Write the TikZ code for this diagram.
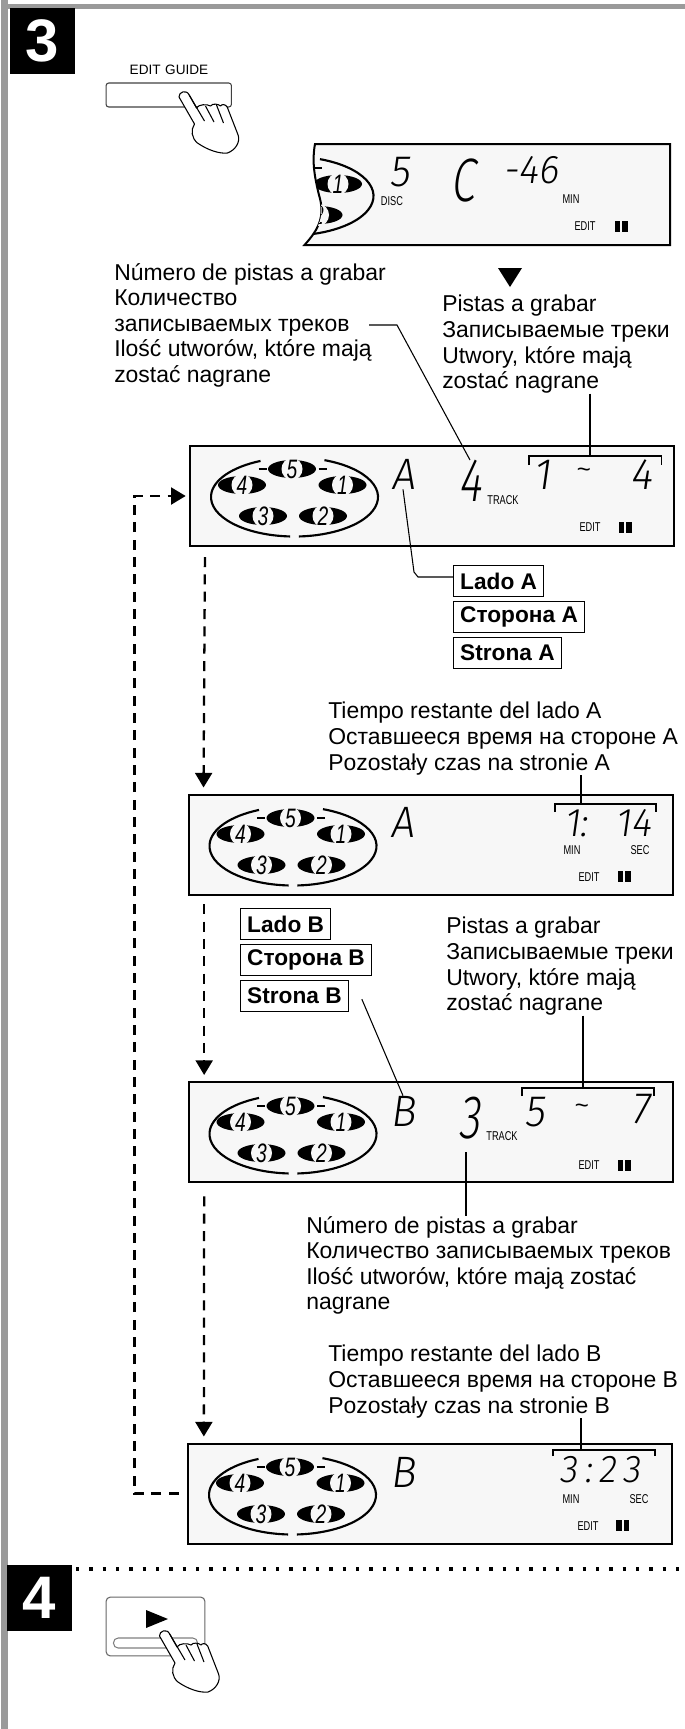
\documentclass[tikz,border=0pt]{standalone}
\usepackage{fontspec}
\setmainfont{Liberation Sans}
\newfontfamily\segfont[FakeSlant=0.14,FakeStretch=0.95]{Fira Sans Light}
\newfontfamily\segtall[FakeSlant=0.14,FakeStretch=0.72]{Fira Sans Light}
\newfontfamily\lcdfont[FakeStretch=0.72]{Liberation Sans}
\usepackage{tikz}
\usetikzlibrary{arrows.meta, positioning, calc}
\definecolor{lcdbg}{HTML}{F7F7F7}
\definecolor{stripgray}{HTML}{9A9A9A}
\tikzset{
  stepbox/.style={fill=black, text=white, inner sep=0pt, minimum width=48.75pt, minimum height=49pt,
    font=\fontsize{45}{45}\selectfont\bfseries},
  lcdpanel/.style={draw=black, fill=lcdbg, line width=1.5pt, inner sep=0pt, minimum width=363pt, minimum height=75pt},
  seg/.style={inner sep=0pt, font=\segfont\fontsize{33}{33}\selectfont},
  segbig/.style={inner sep=0pt, font=\segtall\fontsize{46}{46}\selectfont},
  lcdtag/.style={inner sep=0pt, font=\lcdfont\fontsize{9.6}{10}\selectfont},
  note/.style={anchor=north west, inner sep=0pt, align=left, font=\fontsize{17.2}{19.2}\selectfont},
  sidetag/.style={draw=black, line width=0.8pt, inner xsep=5pt, inner ysep=0pt, minimum height=23.25pt,
    font=\fontsize{17}{20}\selectfont\bfseries},
  keycap/.style={draw=black!75, line width=0.8pt, rounded corners=2pt, inner sep=0pt},
  lead/.style={draw=black, line width=0.8pt},
  flow/.style={-{Triangle[length=11pt, width=12.75pt]}, draw=black, line width=1.7pt, dash pattern=on 7.5pt off 5.5pt},
  pics/disc/.style={code={
    \fill[black] (0,0) ellipse [x radius=24, y radius=9];
    \fill[lcdbg] (0,0) ellipse [x radius=10.5, y radius=11];
    \node[inner sep=0pt, font=\lcdfont\itshape\fontsize{20}{20}\selectfont] {#1};
  }},
  pics/carousel/.style={code={
    \draw[line width=1.6pt] (-69:83.5 and 39.5) arc [start angle=-69, end angle=87, x radius=83.5, y radius=39.5];
    \draw[line width=1.6pt] (93:83.5 and 39.5) arc [start angle=93, end angle=246, x radius=83.5, y radius=39.5];
    \pic at (-2.5,-28) {disc=5};
    \pic at (-52.5,-12) {disc=4};
    \pic at (48,-12) {disc=1};
    \pic at (-31.5,19) {disc=3};
    \pic at (28.5,19) {disc=2};
    \draw[line width=1pt] (-36,-28) -- (-28,-28) (24,-28) -- (32,-28);
  }},
  pics/pausebars/.style={code={
    \fill (-6.5,-5.5) rectangle (-1,5.5);
    \fill (1,-5.5) rectangle (6.5,5.5);
  }},
  pics/hand/.style={code={
    \draw[line width=0.8pt, fill=white, line join=round] (-4.5,5) -- (11,32) .. controls (7,38) and (8,46) .. (14,51)
      .. controls (24,58) and (36,62) .. (44,61) .. controls (52,58) and (57,50) .. (54.6,43) -- (43.7,15)
      .. controls (42,12) and (38,12) .. (37,14) .. controls (35,12) and (29,11) .. (27,14)
      .. controls (24,12) and (15,12) .. (13,16) -- (5.7,3) .. controls (3,-3) and (-5,0) .. (-4.5,5) -- cycle;
    \draw[line width=0.8pt] (5.7,3) -- (21,29) (22,14) -- (30.5,30) (33,13) -- (40,31);
  }}
}
\begin{document}
\begin{tikzpicture}[x=0.75pt, y=-0.75pt]
\useasboundingbox (0,0) rectangle (685,1729);
% scan edges
\fill[stripgray] (1,0) rectangle (8,1729);
\fill[stripgray] (1,4) rectangle (685,9);
% step 3
\node[stepbox] (stepthree) at (42.5,41) {3};
\node[lcdtag, font=\fontsize{10.2}{11}\selectfont] (editguide) at (169,70) {EDIT\,\,GUIDE};
\node[keycap, minimum width=94pt, minimum height=18pt] (editkey) at (168.75,95) {};
\pic at (183.5,92) {hand};
% first display, torn on the left
\draw[fill=lcdbg, line width=1.5pt] (304.5,245) .. controls (320,228) and (325,215) .. (319,195)
  .. controls (314,175) and (312,160) .. (315,144) -- (670,144) -- (670,245) -- cycle;
\begin{scope}
\clip (304.5,245) .. controls (320,228) and (325,215) .. (319,195)
  .. controls (314,175) and (312,160) .. (315,144) -- (670,144) -- (670,245) -- cycle;
\pic at (290,196) {carousel};
\end{scope}
\node[seg] (discno) at (400,172) {5};
\node[lcdtag] (disctag) at (392,201) {DISC};
\node[segbig] (cassette) at (463,180) {C};
\node[seg, font=\segfont\fontsize{30}{30}\selectfont] (tapelen) at (531,170) {-46};
\node[lcdtag] (mintag) at (571,199) {MIN};
\node[lcdtag] (edittag) at (585,226) {EDIT};
\pic at (621,226) {pausebars};
\fill (498,268) -- (522,268) -- (510,287) -- cycle;
% notes above display A
\node[note] (numnote) at (114,263) {Número de pistas a grabar\\Количество\\записываемых треков\\Ilość utworów, które mają\\zostać nagrane};
\node[note] (tracknote) at (442,295) {Pistas a grabar\\Записываемые треки\\Utwory, które mają\\zostać nagrane};
\coordinate (numlead) at (369,325);
% display A
\node[lcdpanel] (panela) at (432,496) {};
\pic at (294.5,497) {carousel};
\node[seg] (sidea) at (403,474) {A};
\node[segbig] (counta) at (470,481) {4};
\node[lcdtag] at (503,500) (tracka) {TRACK};
\node[seg] (firsta) at (542,475) {1};
\node[seg, font=\fontsize{18}{18}\selectfont] (tildea) at (584,473) {\textasciitilde};
\node[seg] (lasta) at (641,475) {4};
\node[lcdtag] (edita) at (590,527) {EDIT};
\pic at (625,527.5) {pausebars};
\coordinate (bracea) at (590,456);
\draw[lead] (529,465) |- (661.6,456) -- (661.6,465);
\draw[lead] (tracknote.south -| bracea) -- (bracea);
\draw[lead] (numlead) -- ++(28,0) -- (counta.north);
% side A tags
\node[sidetag, anchor=north west] (ladoa) at (453,565) {Lado A};
\node[sidetag, below=3pt of ladoa.south west, anchor=north west] (storonaa) {Сторона A};
\node[sidetag, below=3pt of storonaa.south west, anchor=north west] (stronaa) {Strona A};
\draw[lead] (sidea.south) -- (414,572) -- (418,577) -- (ladoa.west |- 440,577);
% display with time A
\node[note] (timeanote) at (328,702) {Tiempo restante del lado A\\Оставшееся время на стороне A\\Pozostały czas na stronie A};
\node[lcdpanel] (panelb) at (430.5,844.5) {};
\pic at (293,846) {carousel};
\node[seg] (sideb) at (402,822) {A};
\node[seg, font=\segfont\fontsize{30}{30}\selectfont] (timemin) at (576,823) {1:};
\node[seg, font=\segfont\fontsize{30}{30}\selectfont] (timesec) at (633,823) {14};
\node[lcdtag] (minb) at (572,850) {MIN};
\node[lcdtag] (secb) at (640,850) {SEC};
\node[lcdtag] (editb) at (589,877) {EDIT};
\pic at (624,876.5) {pausebars};
\coordinate (braceb) at (581,804);
\draw[lead] (555,812) |- (656,804) -- (656,812);
\draw[lead] (timeanote.south -| braceb) -- (braceb);
% side B tags
\node[sidetag, anchor=north west] (ladob) at (240,908) {Lado B};
\node[sidetag, below=3pt of ladob.south west, anchor=north west] (storonab) {Сторона B};
\node[sidetag, below=3pt of storonab.south west, anchor=north west] (stronab) {Strona B};
\node[note] (tracknoteb) at (446,917) {Pistas a grabar\\Записываемые треки\\Utwory, które mają\\zostać nagrane};
% display B
\node[lcdpanel] (panelc) at (430.5,1132) {};
\pic at (293,1134) {carousel};
\node[seg] (sidec) at (403,1111) {B};
\node[segbig] (countc) at (469,1118) {3};
\node[lcdtag] (trackc) at (502,1136) {TRACK};
\node[seg] (firstc) at (535,1112) {5};
\node[seg, font=\fontsize{18}{18}\selectfont] (tildec) at (582,1109) {\textasciitilde};
\node[seg] (lastc) at (641,1109) {7};
\node[lcdtag] (editc) at (589,1165) {EDIT};
\pic at (624,1165) {pausebars};
\coordinate (bracec) at (583,1088);
\draw[lead] (522,1096) |- (654,1088) -- (654,1096);
\draw[lead] (tracknoteb.south -| bracec) -- (bracec);
\draw[lead] (stronab.east) ++(13,3) -- (sidec.north);
\node[note] (numnoteb) at (306,1216) {Número de pistas a grabar\\Количество записываемых треков\\Ilość utworów, które mają zostać\\nagrane};
\draw[lead] (466,1152) -- (numnoteb.north -| 466,0);
% display with time B
\node[note] (timebnote) at (328,1345) {Tiempo restante del lado B\\Оставшееся время на стороне B\\Pozostały czas na stronie B};
\node[lcdpanel] (paneld) at (429.5,1493.5) {};
\pic at (292.5,1495) {carousel};
\node[seg] (sided) at (403,1472) {B};
\node[seg, font=\segfont\fontsize{29}{29}\selectfont] (timed) at (600,1470) {3\,:\,2\,3};
\node[lcdtag] (mind) at (571,1499) {MIN};
\node[lcdtag] (secd) at (639,1499) {SEC};
\node[lcdtag] (editd) at (588,1526) {EDIT};
\pic at (622.5,1525.5) {pausebars};
\coordinate (braced) at (581,1450);
\draw[lead] (553,1456) |- (655,1450) -- (655,1456);
\draw[lead] (timebnote.south -| braced) -- (braced);
% flow between displays
\draw[flow, shorten <=7.5pt, shorten >=4.5pt] ([xshift=12pt]panela.south west) -- ([xshift=12pt]panelb.north west);
\draw[flow, shorten <=6.5pt, shorten >=4.5pt] ([xshift=12.5pt]panelb.south west) -- ([xshift=12.5pt]panelc.north west);
\draw[flow, shorten <=10pt, shorten >=4.5pt] ([xshift=12.5pt]panelc.south west) -- ([xshift=13pt]paneld.north west);
\draw[flow, shorten <=6pt, shorten >=2.5pt] (paneld.west) -- ++(-52,0) |- (panela.west);
% step 4
\draw[line width=2.4pt, dash pattern=on 2.4pt off 7.6pt] (76,1569) -- (685,1569);
\node[stepbox] (stepfour) at (39.5,1598) {4};
\node[keycap, draw=black!60, rounded corners=3pt, minimum width=74pt, minimum height=44pt] (playkey) at (155.5,1626.5) {};
\node[keycap, draw=black!50, rounded corners=3.5pt, minimum width=63pt, minimum height=7.5pt] (playslot) at (155.5,1643) {};
\fill (146,1610) -- (168,1619) -- (146,1628) -- cycle;
\pic at (164,1631) {hand};
\end{tikzpicture}
\end{document}
